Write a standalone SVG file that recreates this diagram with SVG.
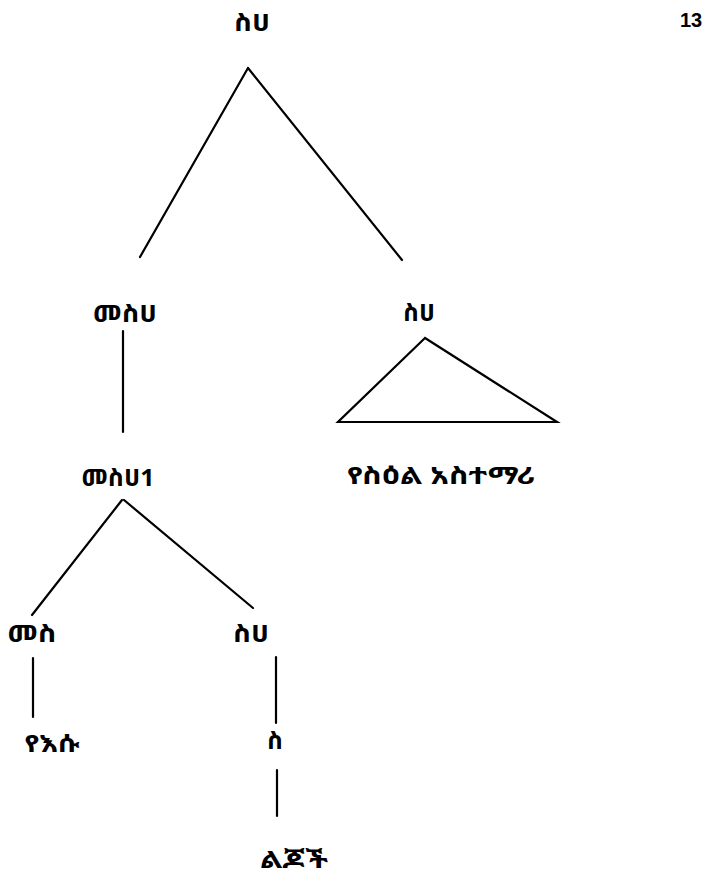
<svg xmlns="http://www.w3.org/2000/svg" width="703" height="877" viewBox="0 0 703 877">
<style>
.t{font-family:"Noto Sans Ethiopic","Abyssinica SIL","DejaVu Sans","Noto Sans",sans-serif;font-weight:bold;font-size:24px;fill:#000;text-anchor:middle}
.e{stroke:#000;stroke-width:2.2;fill:none;stroke-linecap:round}
</style>
<rect width="703" height="877" fill="#fff"/>
<text x="680" y="27" style="font-family:'Liberation Sans',Arial,sans-serif;font-weight:bold;font-size:20px">13</text>
<g id="connectors">
<line class="e" x1="248" y1="68" x2="140" y2="257"/>
<line class="e" x1="248" y1="68" x2="402" y2="260"/>
<line class="e" x1="123" y1="331" x2="123" y2="432"/>
<line class="e" x1="122" y1="500" x2="32" y2="615"/>
<line class="e" x1="124" y1="500" x2="253" y2="608"/>
<line class="e" x1="33" y1="658" x2="33" y2="717"/>
<line class="e" x1="276" y1="657" x2="276" y2="723"/>
<line class="e" x1="277" y1="770" x2="277" y2="816"/>
</g>
<g id="n_root"><text class="t" x="252" y="31" textLength="36" lengthAdjust="spacingAndGlyphs">ስሀ</text></g>
<g id="n_mesh"><text class="t" x="125" y="322" textLength="64" lengthAdjust="spacingAndGlyphs">መስሀ</text></g>
<g id="n_sh2"><text class="t" x="419" y="321" textLength="32" lengthAdjust="spacingAndGlyphs">ስሀ</text></g>
<g id="n_tri"><polygon points="425,338 338,422 557,422" fill="none" stroke="#000" stroke-width="2.2"/></g>
<g id="n_teacher"><text class="t" x="441" y="484" textLength="188" lengthAdjust="spacingAndGlyphs">የስዕል  አስተማሪ</text></g>
<g id="n_mesh1"><text class="t" x="118" y="486" textLength="73" lengthAdjust="spacingAndGlyphs">መስሀ1</text></g>
<g id="n_mes"><text class="t" x="32" y="642" textLength="49" lengthAdjust="spacingAndGlyphs">መስ</text></g>
<g id="n_sh3"><text class="t" x="251" y="642" textLength="36" lengthAdjust="spacingAndGlyphs">ስሀ</text></g>
<g id="n_yesu"><text class="t" x="52" y="752" textLength="55" lengthAdjust="spacingAndGlyphs">የእሱ</text></g>
<g id="n_s"><text class="t" x="275" y="749" textLength="16" lengthAdjust="spacingAndGlyphs">ስ</text></g>
<g id="n_lijoch"><text class="t" x="294" y="868" textLength="68" lengthAdjust="spacingAndGlyphs">ልጆች</text></g>
</svg>
